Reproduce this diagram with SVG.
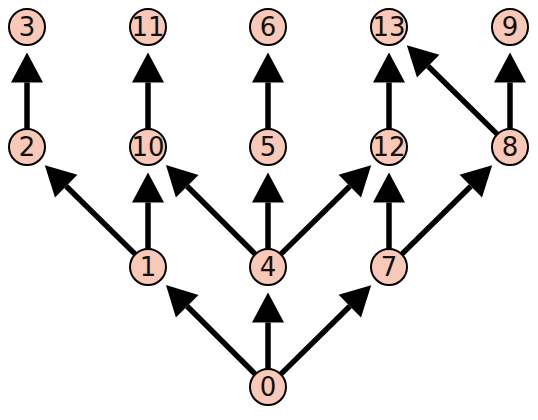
<svg xmlns="http://www.w3.org/2000/svg" width="538" height="420" viewBox="0 0 538 420">
<style>
.n circle{fill:#f8c9b8;stroke:#000;stroke-width:2}
.n text{font-family:"DejaVu Sans",sans-serif;font-size:26px;text-anchor:middle;dominant-baseline:central;fill:#111}
#edges line{stroke:#000;stroke-width:5.5;marker-end:url(#ah)}
</style>
<defs>
<marker id="ah" markerUnits="userSpaceOnUse" markerWidth="32" markerHeight="34" refX="0" refY="17" orient="auto" viewBox="0 0 32 34" overflow="visible">
<path d="M0,1 L30,17 L0,33 z" fill="#000"/>
</marker>
</defs>
<rect width="538" height="420" fill="#fff"/>
<g id="edges">
<line x1="254.9" y1="373.9" x2="187.2" y2="306.2"/>
<line x1="268" y1="368.5" x2="268" y2="322.5"/>
<line x1="281.1" y1="373.9" x2="349.8" y2="306.2"/>
<line x1="134.9" y1="253.9" x2="66.2" y2="186.2"/>
<line x1="148" y1="248.5" x2="148" y2="202.5"/>
<line x1="254.9" y1="253.9" x2="187.2" y2="186.2"/>
<line x1="268" y1="248.5" x2="268" y2="202.5"/>
<line x1="281.1" y1="253.9" x2="349.8" y2="186.2"/>
<line x1="389" y1="248.5" x2="389" y2="202.5"/>
<line x1="402.1" y1="253.9" x2="470.8" y2="186.2"/>
<line x1="27" y1="128.5" x2="27" y2="82.5"/>
<line x1="148" y1="128.5" x2="148" y2="82.5"/>
<line x1="268" y1="128.5" x2="268" y2="82.5"/>
<line x1="389" y1="128.5" x2="389" y2="82.5"/>
<line x1="510" y1="128.5" x2="510" y2="82.5"/>
<line x1="496.9" y1="133.9" x2="428.2" y2="66.2"/>
</g>
<g id="n0" class="n"><circle cx="268" cy="387" r="18"/><text x="268" y="387">0</text></g>
<g id="n1" class="n"><circle cx="148" cy="267" r="18"/><text x="148" y="267">1</text></g>
<g id="n4" class="n"><circle cx="268" cy="267" r="18"/><text x="268" y="267">4</text></g>
<g id="n7" class="n"><circle cx="389" cy="267" r="18"/><text x="389" y="267">7</text></g>
<g id="n2" class="n"><circle cx="27" cy="147" r="18"/><text x="27" y="147">2</text></g>
<g id="n10" class="n"><circle cx="148" cy="147" r="18"/><text x="148" y="147">10</text></g>
<g id="n5" class="n"><circle cx="268" cy="147" r="18"/><text x="268" y="147">5</text></g>
<g id="n12" class="n"><circle cx="389" cy="147" r="18"/><text x="389" y="147">12</text></g>
<g id="n8" class="n"><circle cx="510" cy="147" r="18"/><text x="510" y="147">8</text></g>
<g id="n3" class="n"><circle cx="27" cy="27" r="18"/><text x="27" y="27">3</text></g>
<g id="n11" class="n"><circle cx="148" cy="27" r="18"/><text x="148" y="27">11</text></g>
<g id="n6" class="n"><circle cx="268" cy="27" r="18"/><text x="268" y="27">6</text></g>
<g id="n13" class="n"><circle cx="389" cy="27" r="18"/><text x="389" y="27">13</text></g>
<g id="n9" class="n"><circle cx="510" cy="27" r="18"/><text x="510" y="27">9</text></g>
</svg>
